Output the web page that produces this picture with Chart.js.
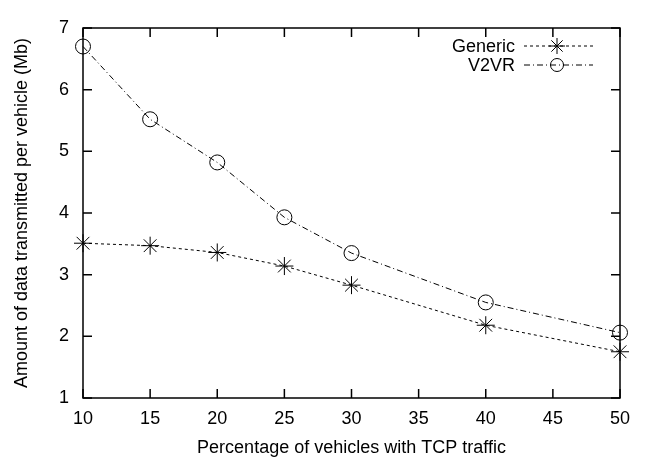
<!DOCTYPE html>
<html>
<head>
<meta charset="utf-8">
<script src="https://cdn.jsdelivr.net/npm/chart.js@4/dist/chart.umd.min.js"></script>
<style>
  html, body { margin: 0; padding: 0; background: #fff; }
  #wrap { width: 645px; height: 464px; }
</style>
</head>
<body>
<div id="wrap"><canvas id="grafico" width="645" height="464"></canvas></div>
<script>
// dados
const percentuais = [10, 15, 20, 25, 30, 40, 50];
const generico = [3.51, 3.47, 3.36, 3.14, 2.83, 2.18, 1.75];
const v2vr = [6.70, 5.52, 4.82, 3.93, 3.35, 2.55, 2.06];
const ticksX = [10, 15, 20, 25, 30, 35, 40, 45, 50];
const ticksY = [1, 2, 3, 4, 5, 6, 7];

const fonte = { family: '"Liberation Sans", Arial, sans-serif', size: 18 };

function pontos(ys) {
  return percentuais.map((x, i) => ({ x: x, y: ys[i] }));
}

// moldura + ticks para dentro (estilo gnuplot) + legenda
const molduraPlugin = {
  id: 'moldura',
  afterDraw(chart) {
    const ctx = chart.ctx;
    const a = chart.chartArea;
    const sx = chart.scales.x, sy = chart.scales.y;
    const tam = 9;
    ctx.save();
    ctx.strokeStyle = '#000';
    ctx.lineWidth = 1.5;
    ctx.strokeRect(a.left, a.top, a.right - a.left, a.bottom - a.top);
    ctx.beginPath();
    ticksX.forEach(v => {
      const px = sx.getPixelForValue(v);
      ctx.moveTo(px, a.bottom); ctx.lineTo(px, a.bottom - tam);
      ctx.moveTo(px, a.top); ctx.lineTo(px, a.top + tam);
    });
    ticksY.forEach(v => {
      const py = sy.getPixelForValue(v);
      ctx.moveTo(a.left, py); ctx.lineTo(a.left + tam, py);
      ctx.moveTo(a.right, py); ctx.lineTo(a.right - tam, py);
    });
    ctx.stroke();

    // legenda
    ctx.font = fonte.size + 'px ' + fonte.family;
    ctx.textAlign = 'right';
    ctx.textBaseline = 'middle';
    chart.data.datasets.forEach((ds, i) => {
      const y = 46 + i * 19;
      ctx.fillStyle = '#000';
      ctx.fillText(ds.label, 515, y + 1);
      ctx.save();
      ctx.lineWidth = 1;
      ctx.setLineDash(ds.borderDash);
      ctx.beginPath();
      ctx.moveTo(524, y); ctx.lineTo(593, y);
      ctx.stroke();
      ctx.restore();
      ctx.fillStyle = 'rgba(0,0,0,0)';
      ctx.lineWidth = 1;
      Chart.helpers.drawPoint(ctx, {
        pointStyle: ds.pointStyle, radius: ds.pointRadius - 1, borderWidth: 1
      }, 557, y);
    });
    ctx.restore();
  }
};

const ctx = document.getElementById('grafico').getContext('2d');
new Chart(ctx, {
  type: 'line',
  data: {
    datasets: [
      {
        label: 'Generic',
        data: pontos(generico),
        borderColor: '#000',
        borderWidth: 1,
        borderDash: [3, 3],
        pointStyle: 'star',
        pointRadius: 9,
        pointBorderColor: '#000',
        pointBorderWidth: 1,
        pointBackgroundColor: 'transparent',
        tension: 0
      },
      {
        label: 'V2VR',
        data: pontos(v2vr),
        borderColor: '#000',
        borderWidth: 1,
        borderDash: [6, 3, 1, 3],
        pointStyle: 'circle',
        pointRadius: 7.5,
        pointBorderColor: '#000',
        pointBorderWidth: 1,
        pointBackgroundColor: 'transparent',
        tension: 0
      }
    ]
  },
  options: {
    responsive: false,
    animation: false,
    clip: false,
    layout: { padding: { top: 28, right: 25, left: 0, bottom: 0 } },
    plugins: {
      legend: { display: false },
      tooltip: { enabled: false }
    },
    scales: {
      x: {
        type: 'linear',
        min: 10,
        max: 50,
        afterBuildTicks: s => { s.ticks = ticksX.map(v => ({ value: v })); },
        ticks: { color: '#000', font: fonte, padding: 10, maxRotation: 0 },
        grid: { display: false, drawTicks: false },
        border: { display: false },
        title: {
          display: true,
          text: 'Percentage of vehicles with TCP traffic',
          color: '#000',
          font: fonte,
          padding: { top: 0, bottom: 5 }
        },
        afterFit: s => { s.height = 66; }
      },
      y: {
        min: 1,
        max: 7,
        afterBuildTicks: s => { s.ticks = ticksY.map(v => ({ value: v })); },
        ticks: { color: '#000', font: fonte, padding: 14 },
        grid: { display: false, drawTicks: false },
        border: { display: false },
        title: {
          display: true,
          text: 'Amount of data transmitted per vehicle (Mb)',
          color: '#000',
          font: fonte,
          padding: { top: 11, bottom: 0 }
        },
        afterFit: s => { s.width = 83; }
      }
    }
  },
  plugins: [molduraPlugin]
});
</script>
</body>
</html>
